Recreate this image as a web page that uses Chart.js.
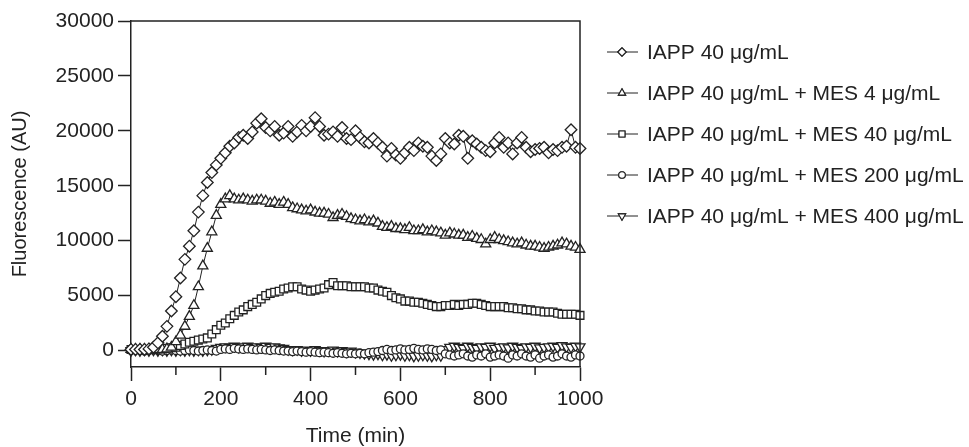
<!DOCTYPE html>
<html>
<head>
<meta charset="utf-8">
<script src="https://cdn.jsdelivr.net/npm/chart.js@4.4.0/dist/chart.umd.min.js"></script>
<style>
  html, body { margin: 0; padding: 0; background: #fff; }
  #wrap { width: 969px; height: 447px; }
</style>
</head>
<body>
<div id="wrap"><canvas id="chart"></canvas></div>
<script>
// sampling grid (min), one reading every 10 min
const times = Array.from({ length: 101 }, (_, i) => i * 10);

const xTicks = [0, 200, 400, 600, 800, 1000];
const xMinorTicks = [100, 300, 500, 700, 900];
const yTicks = [0, 5000, 10000, 15000, 20000, 25000, 30000];

const seriesNames = [
    'IAPP 40 μg/mL',
    'IAPP 40 μg/mL + MES 4 μg/mL',
    'IAPP 40 μg/mL + MES 40 μg/mL',
    'IAPP 40 μg/mL + MES 200 μg/mL',
    'IAPP 40 μg/mL + MES 400 μg/mL'
];
const seriesMarkers = ['rectRot', 'triangle', 'rect', 'circle', 'triangle'];

// Fluorescence (AU) per series
const iapp = [
    100, 100, 100, 100, 150,
    300, 700, 1300, 2200, 3600, 4900, 6600, 8300, 9500, 10900,
    12600, 14100, 15300, 16200, 16900, 17500, 18000, 18600, 18900, 19400,
    19600, 19300, 19900, 20700, 21100, 20300, 20000, 20400, 19600, 19800,
    20400, 19500, 19900, 20500, 20000, 20400, 21200, 20400, 19600, 19700,
    19900, 19500, 20300, 19300, 19200,
    20000, 19400, 19000, 18900, 19300, 18900, 18500, 17700, 18400, 17800,
    17500, 18000, 18500, 18200, 18900, 18600, 18500, 17700, 17300, 17900,
    19300, 18900, 18800, 19600, 19500, 17500, 19100, 18800, 18500, 18200,
    18100, 18900, 19400, 18500, 18900, 17900, 18900, 19400, 18500, 18100,
    18300, 18400, 18500, 18000, 18300, 18200, 18500, 18600, 20100, 18500,
    18400
];
const mes4 = [
    100, 100, 100, 100, 100, 100, 100, 100, 150, 300,
    800, 1400, 2200, 3100, 4100, 5800, 7700, 9300, 10800, 12300,
    13300, 13800, 14100, 13800, 13700, 13800, 13700, 13600, 13700, 13700,
    13600, 13400, 13500, 13300, 13500, 13300, 13000, 12900, 12800, 12700,
    12800, 12600, 12500, 12500, 12400, 12100, 12300, 12400, 12200, 12000,
    11900, 11800, 11900, 11700, 11800, 11600, 11300, 11200, 11300, 11100,
    11100, 11000, 11200, 10900, 10900, 11000, 10800, 10900, 10800, 10700,
    10500, 10700, 10600, 10500, 10500, 10300, 10400, 10200, 10100, 9700,
    10100, 10300, 10100, 10000, 9900, 9800, 9700, 9800, 9600, 9500,
    9500, 9400, 9300, 9400, 9500, 9600, 9800, 9700, 9500, 9400,
    9200
];
const mes40 = [
    100, 100, 100, 100, 100, 100, 150, 150, 200, 250,
    300, 450, 600, 750, 850, 950, 1050, 1150, 1500, 1900,
    2300, 2500, 2900, 3200, 3500, 3700, 4000, 4200, 4400, 4700,
    5000, 5200, 5300, 5400, 5600, 5700, 5800, 5800, 5600, 5500,
    5400, 5500, 5600, 5700, 6000, 6200, 5900, 5900, 5900, 5800,
    5800, 5800, 5800, 5700, 5700, 5500, 5400, 5300, 5000, 4800,
    4700, 4500, 4500, 4400, 4400, 4300, 4200, 4100, 4000, 4000,
    4100, 4100, 4200, 4100, 4200, 4200, 4300, 4300, 4200, 4100,
    4000, 4000, 4000, 4000, 3900, 3900, 3800, 3800, 3700, 3700,
    3600, 3600, 3500, 3500, 3500, 3400, 3300, 3300, 3300, 3300,
    3200
];
const mes200 = [
    0, 50, 0, -50, 0, 50, 0, -50, 0, 50, 0, -50, 0, 50, 0, -50, 0, 50, 0, -50,
    100, 150, 100, 200, 150, 100, 150, 100, 50, 100, 50, 0, 50, 0, -50,
    -50, -100, -50, -100, -150, -100, -150, -200, -150, -200, -250, -200, -250, -300, -250,
    -300, -250, -300, -200, -150, -100, 0, 100, 0, 50, 150, 50, 100, 200, 100, 50, 150, 100, 0, 50,
    -300, -400, -500, -400, -300, -500, -600, -400, -500, -300, -600, -500, -400, -500, -700, -400,
    -500, -300, -500, -600, -400, -700, -500, -400, -600, -500, -300, -500, -600, -400, -500
];
const mes400 = [
    0, 50, 0, 50, 0, 50, 0, 50, 0, 50, 0, 50, 0, 50, 0, 50, 0, 50, 100, 200,
    300, 350, 300, 400, 300, 350, 400, 300, 350, 300, 400, 300, 350, 250, 200,
    100, 50, 100, 0, 50, 0, 100, 0, -50, 0, 50, -50, 0, -100, -50,
    -150, -200, -250, -300, -350, -300, -400, -350, -450, -400, -350, -450, -400, -500, -450, -400, -450, -500, -400, -450,
    100, 300, 400, 300, 200, 400, 300, 200, 350, 300, 400, 200, 300, 350, 250, 400,
    300, 200, 350, 300, 400, 250, 300, 350, 400, 300, 450, 350, 300, 400, 350
];

const seriesValues = [iapp, mes4, mes40, mes200, mes400];
const ink = '#222';
const fontFamily = '"Liberation Sans", Arial, sans-serif';

function makeDataset(i) {
    const down = i === 4;
    const size = seriesMarkers[i] === 'circle' ? 4 : seriesMarkers[i] === 'rect' ? 5.5 : 5.8;
    return {
        label: seriesNames[i],
        data: times.map((t, k) => ({ x: t, y: seriesValues[i][k] })),
        borderColor: ink,
        borderWidth: 1,
        pointStyle: seriesMarkers[i],
        pointRotation: down ? 180 : 0,
        pointRadius: size,
        pointBackgroundColor: '#fff',
        pointBorderColor: ink,
        pointBorderWidth: 1.3,
        tension: 0,
        clip: 10
    };
}

// top/right frame, minor x ticks and the legend on the right
const framePlugin = {
    id: 'frame',
    afterDraw(chart) {
        const { ctx, chartArea: a, scales: { x } } = chart;
        ctx.save();
        ctx.strokeStyle = ink;
        ctx.lineWidth = 1.5;
        ctx.beginPath();
        ctx.moveTo(a.left, a.top);
        ctx.lineTo(a.right, a.top);
        ctx.lineTo(a.right, a.bottom);
        xMinorTicks.forEach(v => {
            const px = x.getPixelForValue(v);
            ctx.moveTo(px, a.bottom);
            ctx.lineTo(px, a.bottom + 8);
        });
        ctx.stroke();

        // legend
        ctx.font = '21px ' + fontFamily;
        ctx.textBaseline = 'middle';
        chart.data.datasets.forEach((ds, i) => {
            const y = 52 + i * 41;
            ctx.strokeStyle = ink;
            ctx.lineWidth = 1;
            ctx.beginPath();
            ctx.moveTo(607, y);
            ctx.lineTo(638, y);
            ctx.stroke();
            ctx.fillStyle = '#fff';
            ctx.lineWidth = 1.1;
            Chart.helpers.drawPoint(ctx, {
                pointStyle: ds.pointStyle,
                rotation: ds.pointRotation,
                radius: ds.pointStyle === 'circle' ? 3.3 : 4.2,
                borderWidth: 1.1
            }, 622, y);
            ctx.fill();
            ctx.stroke();
            ctx.fillStyle = ink;
            ctx.fillText(ds.label, 647, y + 1);
        });
        ctx.restore();
    }
};

const tickFont = { family: fontFamily, size: 21 };
const plainNumber = v => String(v);

new Chart(document.getElementById('chart'), {
    type: 'line',
    data: { datasets: seriesNames.map((_, i) => makeDataset(i)) },
    options: {
        responsive: true,
        maintainAspectRatio: false,
        animation: false,
        layout: { padding: { left: 0, top: 21, right: 389, bottom: 0 } },
        plugins: { legend: { display: false }, tooltip: { enabled: false } },
        scales: {
            x: {
                type: 'linear',
                min: 0,
                max: 1000,
                afterBuildTicks: s => { s.ticks = xTicks.map(v => ({ value: v })); },
                afterFit: s => { s.height = 80; },
                ticks: { font: tickFont, color: ink, padding: 6, maxRotation: 0, callback: plainNumber },
                grid: { drawOnChartArea: false, tickLength: 14, tickColor: ink, tickWidth: 1.5 },
                border: { color: ink, width: 1.5 },
                title: {
                    display: true, text: 'Time (min)', color: ink,
                    font: { family: fontFamily, size: 21, lineHeight: 1 },
                    padding: 0
                }
            },
            y: {
                type: 'linear',
                min: -1500,
                max: 30000,
                afterBuildTicks: s => { s.ticks = yTicks.map(v => ({ value: v })); },
                afterFit: s => { s.width = 131; },
                ticks: { font: tickFont, color: ink, padding: 4, callback: plainNumber },
                grid: { drawOnChartArea: false, tickLength: 13, tickColor: ink, tickWidth: 1.5 },
                border: { color: ink, width: 1.5 },
                title: {
                    display: true, text: 'Fluorescence (AU)', color: ink,
                    font: { family: fontFamily, size: 20, lineHeight: 1 },
                    padding: { top: 10, bottom: 0 }
                }
            }
        }
    },
    plugins: [framePlugin]
});
</script>
</body>
</html>
